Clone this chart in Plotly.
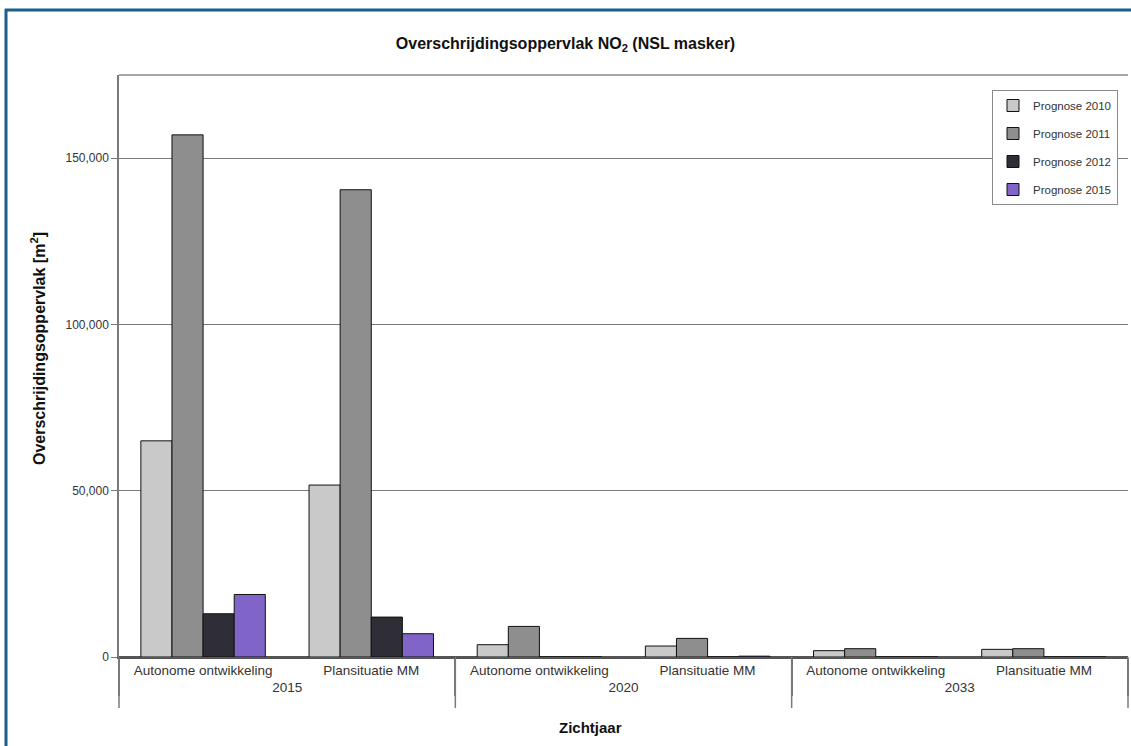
import plotly.graph_objects as go

# Data
years = ["2015", "2015", "2020", "2020", "2033", "2033"]
scenarios = ["Autonome ontwikkeling", "Plansituatie MM",
             "Autonome ontwikkeling", "Plansituatie MM",
             "Autonome ontwikkeling", "Plansituatie MM"]
series_names = ["Prognose 2010", "Prognose 2011", "Prognose 2012", "Prognose 2015"]
prognose_2010 = [65000, 51700, 3700, 3300, 1900, 2300]
prognose_2011 = [157000, 140500, 9200, 5600, 2500, 2500]
prognose_2012 = [13000, 12000, 0, 0, 0, 0]
prognose_2015 = [18800, 7000, 0, 250, 0, 0]
y_ticks = [0, 50000, 100000, 150000]
y_tick_labels = ["0", "50,000", "100,000", "150,000"]

series_values = [prognose_2010, prognose_2011, prognose_2012, prognose_2015]
colors = ["#c9c9c9", "#8e8e8e", "#2f2d35", "#8064c8"]

FONT = "Arial, Liberation Sans, sans-serif"

fig = go.Figure()
for name, vals, col in zip(series_names, series_values, colors):
    fig.add_trace(go.Bar(
        x=[years, scenarios], y=vals, name=name, legendgroup=name,
        marker=dict(color=col, line=dict(color="#111111", width=1)),
    ))

W, H = 1131, 746
L, R, T, B = 119, 3, 75, 89
pw, ph = W - L - R, H - T - B

def px_x(x):
    return (x - L) / pw

def px_y(y):
    return (H - B - y) / ph

shapes = [
    # blue frame
    dict(type="line", xref="paper", yref="paper", x0=px_x(6), x1=px_x(6),
         y0=px_y(9), y1=px_y(760), line=dict(color="#1d5e8c", width=3)),
    dict(type="line", xref="paper", yref="paper", x0=px_x(5), x1=px_x(1140),
         y0=px_y(10), y1=px_y(10), line=dict(color="#1d5e8c", width=3)),
    # plot area top border
    dict(type="line", xref="paper", yref="paper", x0=0, x1=1, y0=1, y1=1,
         line=dict(color="#8a8a8a", width=1.5)),
]
# extend the group dividers downward like the original
n_groups = len(dict.fromkeys(years))
for i in range(n_groups + 1):
    shapes.append(dict(type="line", xref="paper", yref="paper",
                       x0=i / n_groups, x1=i / n_groups, y0=0, y1=px_y(708),
                       line=dict(color="#7a7a7a", width=1.5)))

annotations = [
    dict(text="<b>Overschrijdingsoppervlak [m<sup>2</sup>]</b>", textangle=-90,
         xref="paper", yref="paper", x=px_x(38), y=px_y(349),
         xanchor="center", yanchor="middle", showarrow=False,
         font=dict(family=FONT, size=16, color="#111111")),
    dict(text="<b>Zichtjaar</b>",
         xref="paper", yref="paper", x=px_x(590), y=px_y(727),
         xanchor="center", yanchor="middle", showarrow=False,
         font=dict(family=FONT, size=15, color="#111111")),
]

fig.update_layout(
    width=W, height=H,
    margin=dict(l=L, r=R, t=T, b=B),
    paper_bgcolor="white", plot_bgcolor="white",
    barmode="group", bargap=0.26, bargroupgap=0,
    font=dict(family=FONT, size=11, color="#222222"),
    title=dict(text="<b>Overschrijdingsoppervlak NO<sub>2</sub> (NSL masker)</b>",
               x=0.5, xref="container", xanchor="center", y=1 - 43 / H, yanchor="middle",
               font=dict(family=FONT, size=16, color="#111111")),
    legend=dict(x=px_x(992), y=px_y(90), xanchor="left", yanchor="top",
                bgcolor="white", bordercolor="#8a8a8a", borderwidth=1,
                font=dict(family=FONT, size=11.5, color="#333333"),
                tracegroupgap=9, itemwidth=30),
    shapes=shapes,
    annotations=annotations,
    showlegend=True,
)

fig.update_yaxes(
    range=[0, 175000], tickvals=y_ticks, ticktext=y_tick_labels,
    showgrid=True, gridcolor="#7a7a7a", gridwidth=1,
    zeroline=True, zerolinecolor="#555555", zerolinewidth=1.5,
    showline=True, linecolor="#7a7a7a", linewidth=1.5,
    ticks="outside", ticklen=6, tickcolor="#7a7a7a",
    tickfont=dict(family=FONT, size=12, color="#333333"),
)

fig.update_xaxes(
    type="multicategory",
    showline=True, linecolor="#555555", linewidth=1.5,
    showdividers=True, dividercolor="#7a7a7a", dividerwidth=1.5,
    tickfont=dict(family=FONT, size=13.5, color="#333333"),
    ticks="",
)

fig.write_html(
    "out.html",
    config={"displayModeBar": False},
    post_script="document.body.style.margin='0';document.body.style.overflow='hidden';",
)
